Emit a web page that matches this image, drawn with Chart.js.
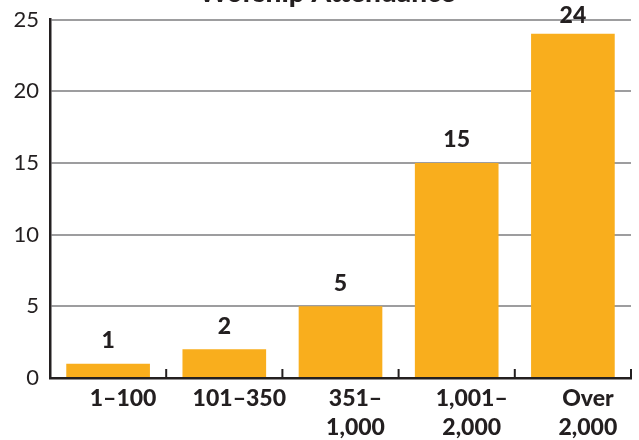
<!DOCTYPE html>
<html>
<head>
<meta charset="utf-8">
<script src="https://cdn.jsdelivr.net/npm/chart.js@4/dist/chart.umd.min.js"></script>
<style>
  html, body { margin: 0; padding: 0; background: #ffffff; }
  #wrap { width: 639px; height: 440px; position: relative; }
</style>
</head>
<body>
<div id="wrap"><canvas id="c" width="639" height="440"></canvas></div>
<script>
// Congregation size bands and number of churches in each
const categories = [["1\u2013100"], ["101\u2013350"], ["351\u2013", "1,000"], ["1,001\u2013", "2,000"], ["Over", "2,000"]];
const counts = [1, 2, 5, 15, 24];
const yTicks = [0, 5, 10, 15, 20, 25];
const chartTitle = "Worship Attendance";

const INK = "#231f20";
const BAR = "#f9ae1d";
const FONT = "Lato, 'DejaVu Sans', sans-serif";

// Title sits at the very top edge of the canvas
const titlePlugin = {
  id: "topTitle",
  afterDraw(chart) {
    const ctx = chart.ctx;
    ctx.save();
    ctx.font = "900 28px " + FONT;
    ctx.fillStyle = INK;
    ctx.textAlign = "center";
    ctx.textBaseline = "alphabetic";
    ctx.fillText(chartTitle, 327, 2);
    ctx.restore();
  }
};

// Value labels above each bar
const valueLabels = {
  id: "valueLabels",
  afterDatasetsDraw(chart) {
    const ctx = chart.ctx;
    const meta = chart.getDatasetMeta(0);
    ctx.save();
    ctx.font = "900 23px " + FONT;
    ctx.fillStyle = INK;
    ctx.textAlign = "center";
    ctx.textBaseline = "middle";
    meta.data.forEach((bar, i) => {
      const y = Math.max(bar.y - 23, 16);
      ctx.fillText(String(counts[i]), bar.x, y);
    });
    ctx.restore();
  }
};

// Short upward tick marks between categories on the x axis
const boundaryTicks = {
  id: "boundaryTicks",
  afterDatasetsDraw(chart) {
    const x = chart.scales.x;
    const area = chart.chartArea;
    const ctx = chart.ctx;
    ctx.save();
    ctx.strokeStyle = INK;
    ctx.lineWidth = 2;
    const half = (x.getPixelForValue(1) - x.getPixelForValue(0)) / 2;
    for (let i = 0; i < counts.length; i++) {
      const bx = x.getPixelForValue(i) + half;
      ctx.beginPath();
      ctx.moveTo(bx, area.bottom);
      ctx.lineTo(bx, area.bottom - 9);
      ctx.stroke();
    }
    ctx.restore();
  }
};

new Chart(document.getElementById("c"), {
  type: "bar",
  data: {
    labels: categories,
    datasets: [{
      data: counts,
      backgroundColor: BAR,
      borderWidth: 0,
      barPercentage: 0.72,
      categoryPercentage: 1.0
    }]
  },
  options: {
    responsive: false,
    animation: false,
    devicePixelRatio: 1,
    layout: { padding: { top: 19.5, right: 8, left: 0, bottom: 0 } },
    plugins: { legend: { display: false }, tooltip: { enabled: false }, title: { display: false } },
    scales: {
      x: {
        offset: true,
        grid: { display: false, drawTicks: false },
        border: { display: true, color: INK, width: 2.5 },
        ticks: {
          color: INK,
          font: { family: FONT, size: 23, weight: "900", lineHeight: 1.26 },
          padding: 6,
          labelOffset: 15,
          maxRotation: 0,
          autoSkip: false
        },
        afterFit(scale) { scale.height = 62; scale.paddingLeft = 0; scale.paddingRight = 0; }
      },
      y: {
        min: 0,
        max: 25,
        afterBuildTicks(scale) { scale.ticks = yTicks.map(v => ({ value: v })); },
        grid: {
          color: (c) => c.tick && c.tick.value === 0 ? INK : "#9d9d9f",
          lineWidth: 2,
          drawTicks: false
        },
        border: { display: true, color: INK, width: 2.5 },
        ticks: {
          color: INK,
          font: { family: FONT, size: 22 },
          padding: 11
        },
        afterFit(scale) { scale.width = 50; scale.paddingTop = 0; scale.paddingBottom = 0; }
      }
    }
  },
  plugins: [titlePlugin, valueLabels, boundaryTicks]
});
</script>
</body>
</html>
